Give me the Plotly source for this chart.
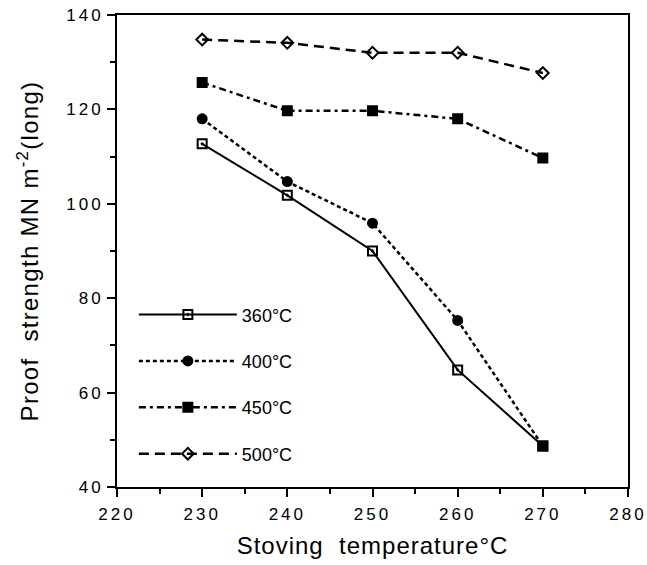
import plotly.graph_objects as go

temps = [230, 240, 250, 260, 270]
s360 = [112.7, 101.8, 90.0, 64.8, 48.7]
s400 = [118.0, 104.7, 95.9, 75.3, 48.7]
s450 = [125.7, 119.7, 119.7, 118.0, 109.7]
s500 = [134.8, 134.1, 132.0, 132.0, 127.7]
names = ["360°C", "400°C", "450°C", "500°C"]

FONT = "Liberation Sans, Arial, Helvetica, sans-serif"

fig = go.Figure()
specs = [
    (s360, names[0], "solid", ["square-open-dot"] * 4 + ["square"], 9, 2.0),
    (s400, names[1], "4px,3px", ["circle"] * 4 + ["square"], 9, 2.5),
    (s450, names[2], "7px,4px,3px,4px", ["square"] * 5, 9, 2.5),
    (s500, names[3], "10px,6px", ["diamond-open"] * 5, 9, 2.5),
]
for i, (vals, nm, dash, sym, msize, lw) in enumerate(specs):
    fig.add_trace(go.Scatter(
        x=temps, y=vals, name=nm, mode="lines+markers",
        legendgroup=f"g{i}",
        line=dict(color="black", width=lw, dash=dash),
        marker=dict(symbol=sym, size=msize, color="black",
                    line=dict(color="black", width=2)),
    ))

fig.update_layout(
    width=647, height=565,
    margin=dict(l=117, r=19, t=15, b=78),
    paper_bgcolor="white", plot_bgcolor="white",
    font=dict(family=FONT, color="black", size=17),
    showlegend=True,
    legend=dict(x=0.033, y=0.404, xanchor="left", yanchor="top",
                bgcolor="rgba(0,0,0,0)", font=dict(size=18),
                tracegroupgap=20, itemwidth=98, traceorder="grouped"),
)
fig.update_xaxes(
    range=[220, 280], dtick=10, tick0=220, automargin=False,
    showline=True, mirror=True, linecolor="black", linewidth=2,
    ticks="outside", ticklen=8, tickwidth=2, tickcolor="black",
    minor=dict(dtick=5, ticks="outside", ticklen=5, tickwidth=2, tickcolor="black"),
    showgrid=False, zeroline=False,
    tickfont=dict(size=17), ticklabelstandoff=3,
    title=dict(text="Stoving  temperature°C", font=dict(size=24), standoff=14),
)
fig.update_yaxes(
    range=[40, 140], dtick=20, tick0=40, automargin=False,
    showline=True, mirror=True, linecolor="black", linewidth=2,
    ticks="outside", ticklen=8, tickwidth=2, tickcolor="black",
    minor=dict(dtick=10, ticks="outside", ticklen=5, tickwidth=2, tickcolor="black"),
    showgrid=False, zeroline=False,
    tickfont=dict(size=17),
    title=dict(text="Proof  strength MN m<sup>-2</sup>(long)", font=dict(size=24), standoff=30),
)

css = ("body{margin:0}"
       ".xtick text,.ytick text{letter-spacing:3px}"
       ".g-xtitle text{letter-spacing:1px}"
       ".g-ytitle text{letter-spacing:1.3px}")
post = ("var s=document.createElement('style');s.innerHTML='" + css +
        "';document.head.appendChild(s);")

fig.write_html("out.html", post_script=post, config={"displayModeBar": False})
